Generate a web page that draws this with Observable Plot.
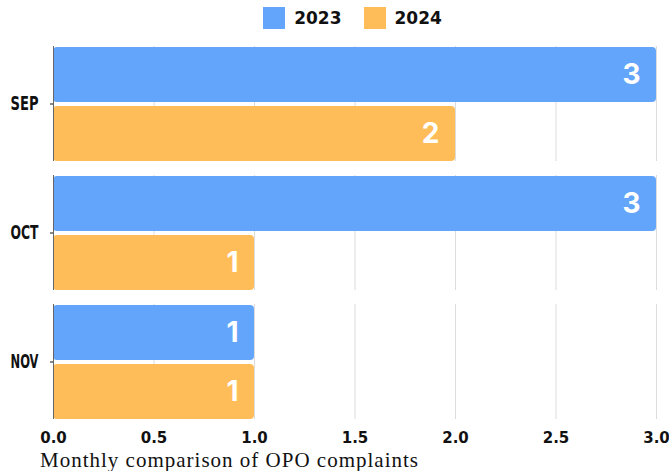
<!DOCTYPE html>
<html>
<head>
<meta charset="utf-8">
<script src="https://cdn.jsdelivr.net/npm/d3@7"></script>
<script src="https://cdn.jsdelivr.net/npm/@observablehq/plot@0.6"></script>
<style>
  body { margin: 0; background: #fff; width: 669px; }
  #legend { height: 36px; display: flex; justify-content: center; align-items: center; padding-left: 36px; }
  .sw { display: flex; align-items: center; margin: 0 11px; font-family: "DejaVu Sans", sans-serif; font-weight: bold; font-size: 17px; color: #111; }
  .sw span.box { width: 22px; height: 22px; margin-right: 9px; display: inline-block; }
  #caption { font-family: "Liberation Serif", "DejaVu Serif", serif; font-size: 21px; letter-spacing: 1px; color: #111; padding-left: 40px; line-height: 22px; margin-top: 1px; }
</style>
</head>
<body>
<div id="legend"></div>
<div id="chart"></div>
<div id="caption"></div>
<script>
const months = ["Sep", "Oct", "Nov"];
const years = ["2023", "2024"];
const values2023 = [3, 3, 1];
const values2024 = [2, 1, 1];
const xTicks = [0, 0.5, 1.0, 1.5, 2.0, 2.5, 3.0];
const colors = ["#63a5fa", "#ffbd59"];
const captionText = "Monthly comparison of OPO complaints";

const data = months.flatMap((m, i) => [
  {month: m, year: years[0], value: values2023[i]},
  {month: m, year: years[1], value: values2024[i]}
]);

// legend
const legend = document.getElementById("legend");
years.forEach((y, i) => {
  const d = document.createElement("div");
  d.className = "sw";
  d.innerHTML = `<span class="box" style="background:${colors[i]}"></span>${y}`;
  legend.appendChild(d);
});
document.getElementById("caption").textContent = captionText;

function build(superFacet) {
  const gridOpts = {stroke: "#dcdcdc", strokeWidth: 1};
  const axisOpts = {stroke: "#666", strokeWidth: 1};
  if (superFacet) { gridOpts.facet = "super"; axisOpts.facet = "super"; }
  return Plot.plot({
    width: 669,
    height: 412,
    marginTop: 9,
    marginLeft: 53,
    marginRight: 13,
    marginBottom: 28,
    style: {
      fontFamily: "'DejaVu Sans', sans-serif",
      fontSize: "15px",
      fontWeight: "bold",
      color: "#111",
      background: "#fff"
    },
    x: {domain: [0, 3], ticks: xTicks, tickFormat: d => d.toFixed(1), tickSize: 0, tickPadding: 13, label: null},
    y: {domain: years, axis: null, paddingInner: 0.07, paddingOuter: 0},
    fy: {domain: months, axis: "left", paddingInner: 0.11, paddingOuter: 0, label: null, tickSize: 3, tickPadding: 12},
    color: {domain: years, range: colors},
    marks: [
      Plot.ruleX(xTicks.filter(d => d > 0), gridOpts),
      Plot.barX(data, {x: "value", y: "year", fy: "month", fill: "year", rx: 4}),
      Plot.text(data, {x: "value", y: "year", fy: "month", text: d => String(d.value), textAnchor: "end", dx: -16,
        fill: "white", fontSize: 28, fontWeight: 700, fontFamily: "Inter, 'Open Sans', sans-serif"}),
      Plot.ruleX([0], axisOpts)
    ]
  });
}
let chart;
try { chart = build(true); } catch (e) { chart = build(false); }
// month labels rendered in condensed capitals, as in the reference
chart.querySelectorAll("text").forEach(t => {
  if (months.includes(t.textContent)) {
    t.setAttribute("font-size", "19");
    t.style.fontSize = "19px";
    t.style.textTransform = "uppercase";
    t.setAttribute("textLength", "28");
    t.setAttribute("lengthAdjust", "spacingAndGlyphs");
  }
});
document.getElementById("chart").appendChild(chart);
</script>
</body>
</html>
